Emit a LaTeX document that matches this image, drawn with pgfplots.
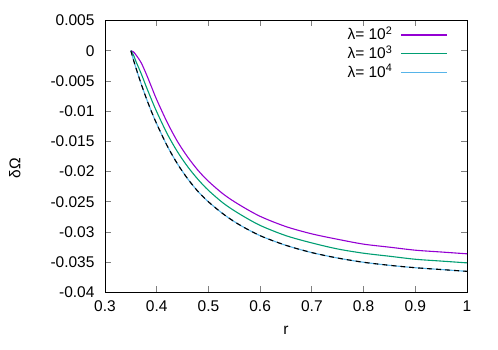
\documentclass[border=0pt]{standalone}
\usepackage{fontspec}
\setmainfont{Liberation Sans}
\usepackage{pgfplots}
\pgfplotsset{compat=1.18}
\definecolor{cpurple}{HTML}{9400D3}
\definecolor{cgreen}{HTML}{009E73}
\definecolor{cblue}{HTML}{56B4E9}
\begin{document}
\begin{tikzpicture}
\begin{axis}[
  scale only axis, width=362pt, height=272pt,
  xmin=0.3, xmax=1, ymin=-0.04, ymax=0.005,
  xtick={0.3,0.4,0.5,0.6,0.7,0.8,0.9,1},
  xticklabels={0.3,0.4,0.5,0.6,0.7,0.8,0.9,1},
  ytick={-0.04,-0.035,-0.03,-0.025,-0.02,-0.015,-0.01,-0.005,0,0.005},
  yticklabels={-0.04,-0.035,-0.03,-0.025,-0.02,-0.015,-0.01,-0.005,0,0.005},
  scaled y ticks=false,
  tick label style={font=\fontsize{15.5}{17}\selectfont},
  yticklabel style={xshift=-7pt},
  xticklabel style={yshift=-5pt},
  label style={font=\fontsize{15.5}{17}\selectfont},
  xlabel={r}, ylabel={δΩ},
  x label style={at={(axis description cs:0.5,-0.138)}, anchor=center},
  y label style={at={(axis description cs:-0.249,0.458)}, anchor=center},
  axis line style={line width=0.9pt},
  major tick length=6pt,
  every tick/.style={gray, line width=0.8pt},
  legend plot pos=right,
  legend cell align=right,
  legend image code/.code={\draw[#1] (0pt,0pt) -- (46pt,0pt);},
  legend style={at={(axis description cs:1,1)}, anchor=north east,
    xshift=-19pt, yshift=-5pt, draw=none, fill=none, inner sep=0pt,
    font=\fontsize{15.5}{17}\selectfont, column sep=7pt, row sep=0pt,
    nodes={text height=13pt, text depth=3pt, inner sep=1.3pt}},
]
\addplot[cpurple, line width=1.1pt, smooth] coordinates {
(0.35,0) (0.355,-0.0002) (0.36,-0.0007) (0.37,-0.0020) (0.38,-0.0039) (0.39,-0.0060)
(0.40,-0.0081) (0.42,-0.0118) (0.44,-0.0150) (0.46,-0.0176) (0.48,-0.0198) (0.50,-0.0216)
(0.53,-0.0238) (0.56,-0.0255) (0.60,-0.0274) (0.65,-0.0291) (0.70,-0.0303) (0.75,-0.0312)
(0.80,-0.0320) (0.85,-0.0325) (0.90,-0.0330) (0.95,-0.0333) (1.00,-0.0336)};
\addlegendentry{λ= 10\textsuperscript{2}}
\addplot[cgreen, line width=1.1pt, smooth] coordinates {
(0.35,0) (0.355,-0.0007) (0.36,-0.0018) (0.37,-0.0038) (0.38,-0.0060) (0.39,-0.0081)
(0.40,-0.0101) (0.42,-0.0137) (0.44,-0.0167) (0.46,-0.0192) (0.48,-0.0213) (0.50,-0.0231)
(0.53,-0.0253) (0.56,-0.0270) (0.60,-0.0289) (0.65,-0.0306) (0.70,-0.0318) (0.75,-0.0328)
(0.80,-0.0335) (0.85,-0.0340) (0.90,-0.0345) (0.95,-0.0348) (1.00,-0.0351)};
\addlegendentry{λ= 10\textsuperscript{3}}
\addplot[cblue, line width=1.1pt, smooth] coordinates {
(0.35,0) (0.355,-0.0015) (0.36,-0.0029) (0.37,-0.0055) (0.38,-0.0079) (0.39,-0.0101)
(0.40,-0.0121) (0.42,-0.0157) (0.44,-0.0187) (0.46,-0.0212) (0.48,-0.0233) (0.50,-0.0250)
(0.53,-0.0271) (0.56,-0.0288) (0.60,-0.0306) (0.65,-0.0322) (0.70,-0.0334) (0.75,-0.0343)
(0.80,-0.0350) (0.85,-0.0355) (0.90,-0.0359) (0.95,-0.0362) (1.00,-0.0365)};
\addlegendentry{λ= 10\textsuperscript{4}}
\addplot[black, line width=1.1pt, dash pattern=on 5pt off 4pt, smooth, forget plot] coordinates {
(0.35,0) (0.355,-0.0015) (0.36,-0.0029) (0.37,-0.0055) (0.38,-0.0079) (0.39,-0.0101)
(0.40,-0.0121) (0.42,-0.0157) (0.44,-0.0187) (0.46,-0.0212) (0.48,-0.0233) (0.50,-0.0250)
(0.53,-0.0271) (0.56,-0.0288) (0.60,-0.0306) (0.65,-0.0322) (0.70,-0.0334) (0.75,-0.0343)
(0.80,-0.0350) (0.85,-0.0355) (0.90,-0.0359) (0.95,-0.0362) (1.00,-0.0365)};
\end{axis}
\path ([xshift=-105pt,yshift=-56.5pt]current axis.south west) rectangle ([xshift=31pt,yshift=20.5pt]current axis.north east);
\end{tikzpicture}
\end{document}
